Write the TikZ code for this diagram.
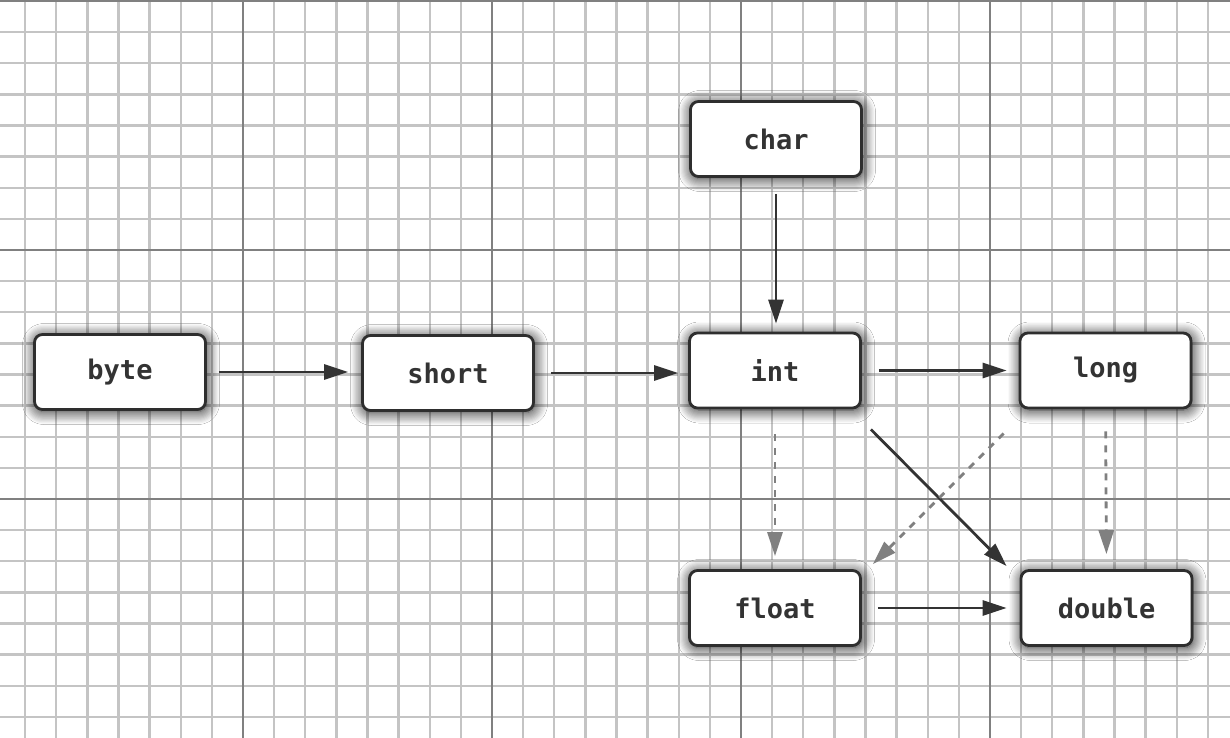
\documentclass[tikz,border=0pt]{standalone}
\usepackage{fontspec}
\newfontfamily\boxfont{DejaVu Sans Mono}
\usetikzlibrary{arrows.meta,shadows.blur,calc}
\begin{document}
\begin{tikzpicture}[x=1pt,y=-1pt,
  typebox/.style={draw=black!82, line width=2.8pt, rounded corners=8pt, fill=white,
    minimum width=171pt, minimum height=75pt, inner sep=0pt,
    font=\boxfont\bfseries\fontsize{27}{31}\selectfont, text=black!80,
    blur shadow={shadow xshift=1pt, shadow yshift=-2pt, shadow blur radius=13pt,
      shadow blur steps=12, shadow opacity=95}},
  solidarrow/.style={draw=black!80, line width=2.8pt, -{Triangle[length=24pt,width=15pt]}},
  dasharrow/.style={draw=black!50, line width=2.8pt, dash pattern=on 7pt off 7pt,
    -{Triangle[length=24pt,width=15pt]}},
  minorline/.style={draw=black!23, line width=2.3pt},
  majorline/.style={draw=black!50, line width=2.8pt}]
\useasboundingbox (0,0) rectangle (1230,738);
\fill[white] (0,0) rectangle (1230,738);
\begin{scope}
\clip (0,0) rectangle (1230,738);
\foreach \k in {0,...,40} {
  \pgfmathsetmacro\xx{-6+31.125*\k}
  \draw[minorline] (\xx,0) -- (\xx,738);
}
\foreach \k in {0,...,24} {
  \pgfmathsetmacro\yy{1+31.125*\k}
  \draw[minorline] (0,\yy) -- (1230,\yy);
}
\foreach \k in {0,8,...,40} {
  \pgfmathsetmacro\xx{-6+31.125*\k}
  \draw[majorline] (\xx,0) -- (\xx,738);
}
\foreach \k in {0,8,16,24} {
  \pgfmathsetmacro\yy{1+31.125*\k}
  \draw[majorline] (0,\yy) -- (1230,\yy);
}
\end{scope}

\node[typebox] (char)   at (776,139)   {char};
\node[typebox] (byte)   at (120,372)   {byte};
\node[typebox] (short)  at (448,373)   {short};
\node[typebox] (int)    at (775,370.5) {int};
\node[typebox] (long)   at (1105.5,370.5) {long};
\node[typebox] (float)  at (775,608)   {float};
\node[typebox] (double) at (1106.5,608) {double};

\draw[solidarrow, shorten <=12pt, shorten >=13pt] (byte.east) -- (byte.east -| short.west);
\draw[solidarrow, shorten <=16pt, shorten >=10pt] (short.east) -- (short.east -| int.west);
\draw[solidarrow, shorten <=16pt, shorten >=8pt] (char.south) -- (char.south |- int.north);
\draw[solidarrow, shorten <=17pt, shorten >=12pt] (int.east) -- (long.west);
\draw[solidarrow, shorten <=16pt, shorten >=13pt] (float.east) -- (double.west);
\draw[solidarrow] ($(int.south east)+(9,20)$) -- ($(double.north west)+(-13,-3)$);
\draw[dasharrow, shorten <=25pt, shorten >=13pt] (int.south) -- (float.north);
\draw[dasharrow, shorten <=22pt, shorten >=15pt] (long.south) -- (double.north);
\draw[dasharrow] ($(long.south west)+(-15,24)$) -- ($(float.north east)+(11,-5)$);
\end{tikzpicture}
\end{document}
